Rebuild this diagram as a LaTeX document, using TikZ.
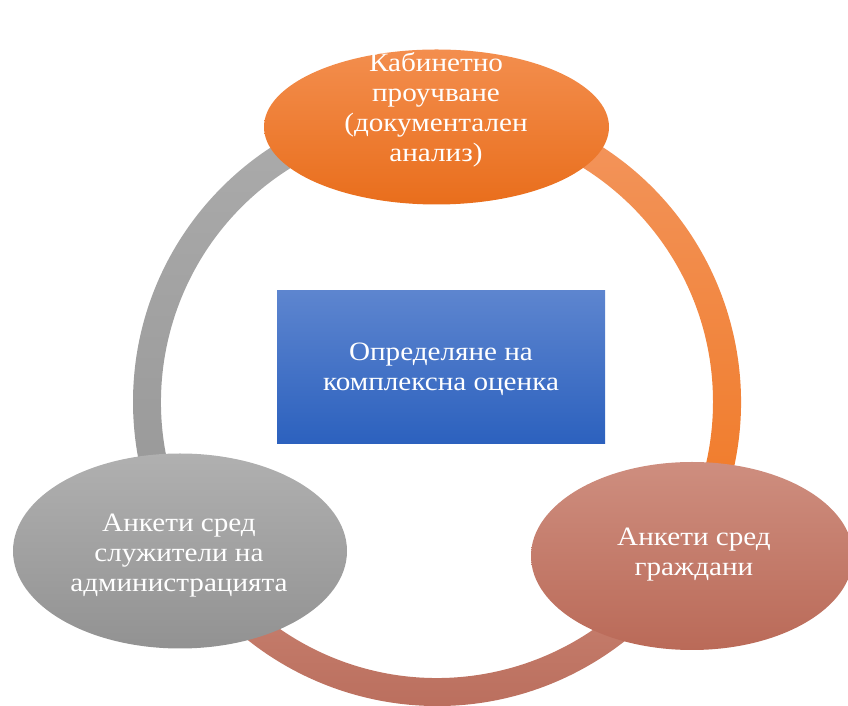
\documentclass[tikz,border=0pt]{standalone}
\usepackage{fontspec}
\setmainfont{Liberation Serif}[FakeStretch=1.1]
\usetikzlibrary{shapes.geometric}
\definecolor{grayT}{RGB}{172,172,172}
\definecolor{grayB}{RGB}{150,150,150}
\definecolor{orgT}{RGB}{243,150,95}
\definecolor{orgB}{RGB}{240,120,35}
\definecolor{brnT}{RGB}{205,135,118}
\definecolor{brnB}{RGB}{182,105,88}
\definecolor{eoT}{RGB}{243,142,78}
\definecolor{eoB}{RGB}{233,110,28}
\definecolor{ebT}{RGB}{206,142,127}
\definecolor{ebB}{RGB}{186,106,88}
\definecolor{egT}{RGB}{176,176,176}
\definecolor{egB}{RGB}{146,146,146}
\definecolor{blT}{RGB}{93,133,207}
\definecolor{blB}{RGB}{44,97,190}
\tikzset{
  blob/.style={ellipse, inner sep=0pt, outer sep=0pt},
  lbl/.style={text=white, align=center, font=\fontsize{26.5}{30}\selectfont, inner sep=0pt},
}
\begin{document}
\begin{tikzpicture}[x=1pt,y=1pt]
\useasboundingbox (0,0) rectangle (848,706);
% ring
\begin{scope}[shift={(437,304)}]
  \shade[top color=grayT, bottom color=grayB]
    (90:304pt) arc[start angle=90,end angle=210,radius=304pt] -- (210:276pt)
    arc[start angle=210,end angle=90,radius=276pt] -- cycle;
  \shade[top color=orgT, bottom color=orgB]
    (-30:304pt) arc[start angle=-30,end angle=90,radius=304pt] -- (90:276pt)
    arc[start angle=90,end angle=-30,radius=276pt] -- cycle;
  \shade[top color=brnT, bottom color=brnB]
    (210:304pt) arc[start angle=210,end angle=330,radius=304pt] -- (330:276pt)
    arc[start angle=330,end angle=210,radius=276pt] -- cycle;
\end{scope}
% center box
\node[rectangle, minimum width=328pt, minimum height=153pt, inner sep=0pt,
      top color=blT, bottom color=blB] (box) at (441,338.5) {};
\node[lbl] (boxt) at (441,336.5) {Определяне на\\комплексна оценка};
% ellipses
\node[blob, minimum width=345pt, minimum height=155pt, top color=eoT, bottom color=eoB] (top) at (436.5,579) {};
\node[lbl] (topt) at (436,596) {Кабинетно\\проучване\\(документален\\анализ)};
\node[blob, minimum width=334pt, minimum height=195pt, top color=egT, bottom color=egB] (left) at (180,155) {};
\node[lbl] (leftt) at (179,150) {Анкети сред\\служители на\\администрацията};
\node[blob, minimum width=322pt, minimum height=188pt, top color=ebT, bottom color=ebB] (right) at (692,150) {};
\node[lbl] (rightt) at (694,151) {Анкети сред\\граждани};
\end{tikzpicture}
\end{document}
